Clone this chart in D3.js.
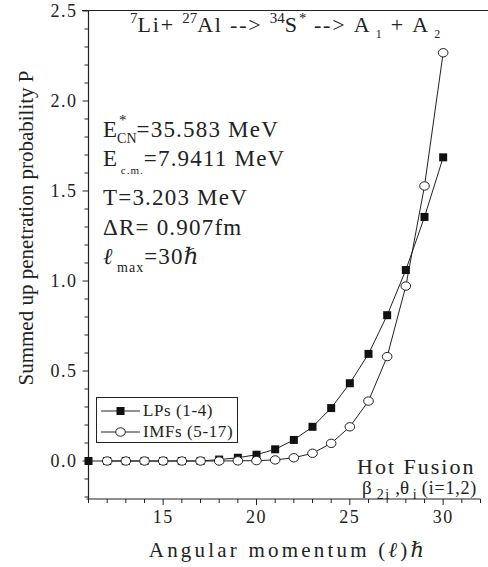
<!DOCTYPE html>
<html><head><meta charset="utf-8">
<script src="https://cdn.jsdelivr.net/npm/d3@7"></script>
<style>body{margin:0;background:#fff}svg{display:block}svg text{font-family:"Liberation Serif","DejaVu Serif","Noto Serif","Tinos","Nimbus Roman","FreeSerif","Times New Roman",Times,serif;fill:#222}</style>
</head><body><div id="c"></div>
<script>
const lValues = [11,12,13,14,15,16,17,18,19,20,21,22,23,24,25,26,27,28,29,30];
const lpValues = [0,0,0,0,0,0,0,0.008,0.018,0.035,0.065,0.117,0.19,0.294,0.432,0.595,0.81,1.061,1.356,1.687];
const imfL = [12,13,14,15,16,17,18,19,20,21,22,23,24,25,26,27,28,29,30];
const imfValues = [0,0,0,0,0,0,0,0.001,0.002,0.006,0.018,0.043,0.098,0.19,0.333,0.58,0.972,1.528,2.268];
const xTicks = [15,20,25,30];
const yTicks = [0,0.5,1.0,1.5,2.0,2.5];
const seriesNames = ["LPs (1-4)","IMFs (5-17)"];

const W=488,H=567;
const svg=d3.select('#c').append('svg').attr('width',W).attr('height',H);
const x=d3.scaleLinear().domain([11,32]).range([88.5,480.5]);
const y=d3.scaleLinear().domain([0,2.5]).range([461,11]);
const yBot=499, xLeft=88.5;
const NB=s=>s.replace(/ /g,'\u00a0');

svg.append('line').attr('x1',82).attr('x2',488).attr('y1',10.5).attr('y2',10.5).attr('stroke','#222').attr('stroke-width',1.2);
const xMinor=d3.range(11,33,1);
const gx=svg.append('g').attr('transform',`translate(0,${yBot})`);
gx.append('line').attr('x1',x(11)-2).attr('x2',x(32)).attr('stroke','#222').attr('stroke-width',1.2);
gx.selectAll('.mt').data(xMinor).join('line').attr('x1',d=>x(d)).attr('x2',d=>x(d)).attr('y1',0).attr('y2',d=>xTicks.includes(d)?6:4).attr('stroke','#222');
gx.selectAll('.tl').data(xTicks).join('text').attr('x',d=>x(d)).attr('y',24).attr('text-anchor','middle').attr('font-size',18).attr('letter-spacing',1.5).text(d=>d);
const gy=svg.append('g');
gy.append('line').attr('x1',xLeft).attr('x2',xLeft).attr('y1',10).attr('y2',yBot).attr('stroke','#222').attr('stroke-width',1.2);
const yMinor=d3.range(-2,26,1).map(d=>d/10);
gy.selectAll('.ymt').data(yMinor).join('line').attr('x1',d=>xLeft-(Math.abs(d*2-Math.round(d*2))<1e-6?6:4)).attr('x2',xLeft).attr('y1',d=>y(d)).attr('y2',d=>y(d)).attr('stroke','#222');
gy.selectAll('.ytl').data(yTicks).join('text').attr('x',xLeft-11).attr('y',d=>y(d)+6).attr('text-anchor','end').attr('font-size',18).attr('letter-spacing',1.5).text(d=>d.toFixed(1));

svg.append('text').attr('x',288).attr('y',557).attr('text-anchor','middle').attr('font-size',21).attr('letter-spacing',3.2)
  .html('Angular momentum (<tspan font-style="italic">ℓ</tspan>)<tspan font-style="italic">ℏ</tspan>');
svg.append('text').attr('transform','translate(33,228) rotate(-90)').attr('text-anchor','middle').attr('font-size',21)
  .text('Summed up penetration probability P');

const line=d3.line().x(d=>x(d[0])).y(d=>y(d[1]));
const lpData=lValues.map((l,i)=>[l,lpValues[i]]);
const imfData=imfL.map((l,i)=>[l,imfValues[i]]);
svg.append('path').datum(lpData).attr('d',line).attr('fill','none').attr('stroke','#222').attr('stroke-width',1);
svg.append('path').datum(imfData).attr('d',line).attr('fill','none').attr('stroke','#222').attr('stroke-width',1);
svg.selectAll('.sq').data(lpData).join('rect').attr('x',d=>x(d[0])-4).attr('y',d=>y(d[1])-4).attr('width',8).attr('height',8).attr('fill','#111');
svg.selectAll('.ci').data(imfData).join('ellipse').attr('cx',d=>x(d[0])).attr('cy',d=>y(d[1])).attr('rx',4.8).attr('ry',4.2).attr('fill','#fff').attr('stroke','#222').attr('stroke-width',1);

const lg=svg.append('g');
lg.append('rect').attr('x',96.5).attr('y',397.5).attr('width',141).attr('height',45).attr('fill','#fff').attr('stroke','#222');
[0,1].forEach(i=>{
  const yy=411+i*21;
  lg.append('line').attr('x1',101).attr('x2',140).attr('y1',yy).attr('y2',yy).attr('stroke','#222');
  if(i===0) lg.append('rect').attr('x',116.5).attr('y',yy-4).attr('width',8).attr('height',8).attr('fill','#111');
  else lg.append('ellipse').attr('cx',120.5).attr('cy',yy).attr('rx',4.8).attr('ry',4.2).attr('fill','#fff').attr('stroke','#222');
  lg.append('text').attr('x',143).attr('y',yy+5).attr('font-size',17).attr('letter-spacing',0.6).text(NB(seriesNames[i]));
});

function rich(x0,y0,parts){
  let cx=x0;
  parts.forEach(p=>{
    const t=svg.append('text').attr('x',cx+(p.dx||0)).attr('y',y0+(p.dy||0)).attr('font-size',p.size).attr('letter-spacing',p.ls||0);
    if(p.it) t.attr('font-style','italic');
    t.text(NB(p.t));
    const w=t.node().getComputedTextLength();
    if(!p.noAdv) cx+=w+(p.dx||0)+(p.gap||0);
  });
}
rich(130,32,[
  {t:'7',size:15,dy:-9},{t:'Li+ ',size:22,ls:1.8},{t:'27',size:15,dy:-9},{t:'Al --> ',size:22,ls:1.8},
  {t:'34',size:15,dy:-9},{t:'S',size:22},{t:'*',size:15,dy:-9,dx:2},{t:' --> A',size:22,ls:1.8},{t:' 1',size:12,dy:6,ls:1.5},{t:' + A',size:22,ls:1.8},{t:' 2',size:12,dy:6,ls:1.5}
]);
rich(103,137,[{t:'E',size:23},{t:'*',size:15,dy:-12,noAdv:true,dx:2},{t:'CN',size:14,dy:6},{t:'=35.583 MeV',size:23,ls:1.2}]);
rich(103,166,[{t:'E',size:23},{t:' c.m.',size:11,dy:8,ls:1},{t:'=7.9411 MeV',size:23,ls:1.2}]);
rich(103,205,[{t:'T=3.203 MeV',size:23,ls:1.2}]);
rich(103,235,[{t:'ΔR= 0.907fm',size:23,ls:1.2}]);
rich(103,264,[{t:'ℓ',size:23,it:true},{t:' max',size:14,dy:8,ls:1},{t:'=30',size:23,ls:1.2},{t:'ℏ',size:23,it:true}]);
rich(357,474,[{t:'Hot Fusion',size:22,ls:2}]);
rich(362,494,[{t:'β',size:19},{t:' 2i',size:14,dy:5,ls:1.5},{t:' ,θ',size:19},{t:' i',size:14,dy:5},{t:' (i=1,2)',size:18,ls:0.8}]);
</script></body></html>
